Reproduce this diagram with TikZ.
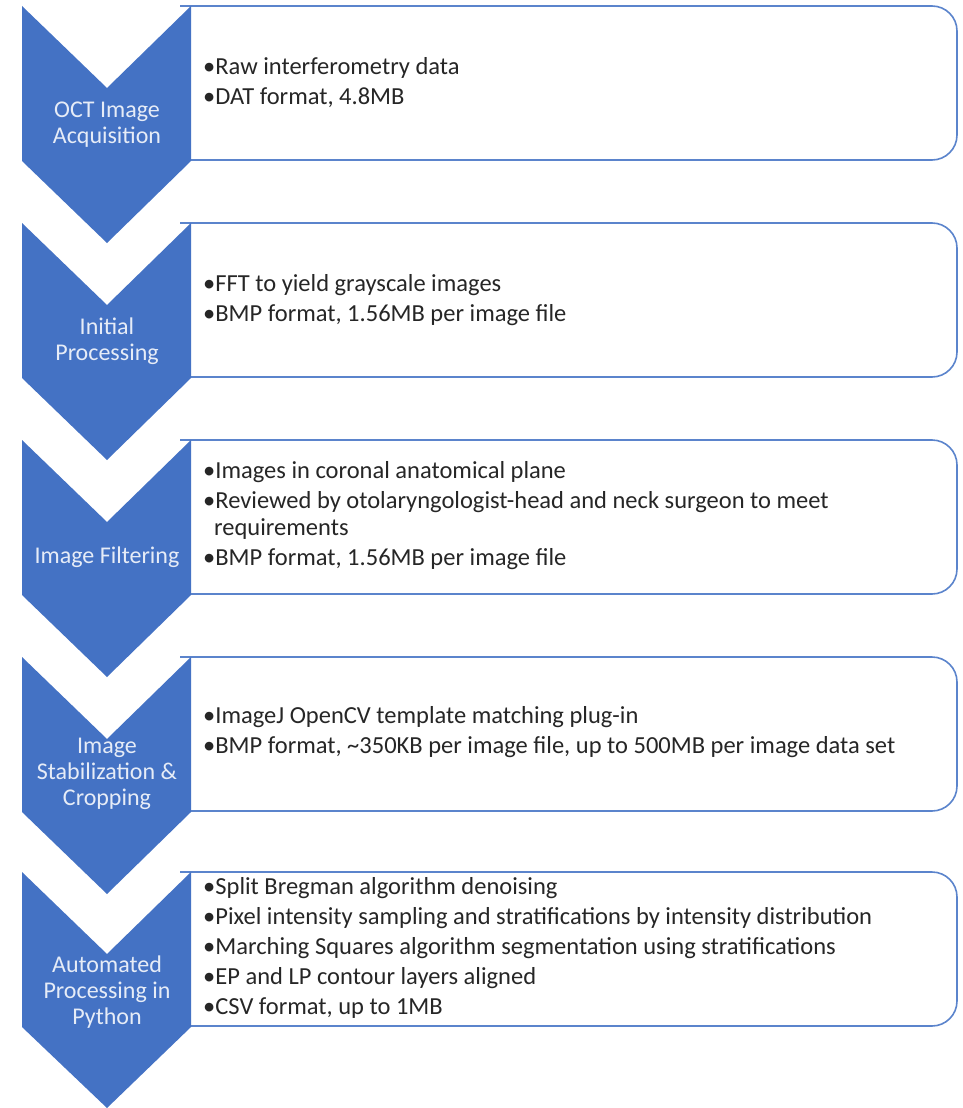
\documentclass[tikz,border=0pt]{standalone}
\usepackage{fontspec}
\setmainfont{Carlito}
\definecolor{stageblue}{HTML}{4472C4}
\definecolor{boxline}{HTML}{5B84CC}
\definecolor{bodytext}{HTML}{262626}
\definecolor{labeltext}{HTML}{E6ECF7}
\tikzset{
  chevron/.style={fill=stageblue, draw=none},
  infobox/.style={draw=boxline, line width=1.6pt, fill=white, rounded corners=25pt},
  stagelabel/.style={text=labeltext, align=center, inner sep=0pt,
    font=\fontsize{24}{26}\selectfont},
  bullets/.style={text=bodytext, align=left, anchor=west, inner sep=0pt,
    font=\fontsize{24.5}{30}\selectfont}
}
\begin{document}
\begin{tikzpicture}[x=1pt,y=-1pt]
\useasboundingbox (0,0) rectangle (963,1108);

% stage 1
\draw[infobox] (180,6) -- (957,6) -- (957,160) -- (180,160);
\fill[chevron] (22,6) -- (107,88) -- (191,6) -- (191,161) -- (107,243) -- (22,161) -- cycle;
\node[stagelabel](acq) at (107,125) {OCT Image\\Acquisition};
\node[bullets](acqtxt) at (203,83) {•Raw interferometry data\\•DAT format, 4.8MB};

% stage 2
\draw[infobox] (180,223) -- (957,223) -- (957,377) -- (180,377);
\fill[chevron] (22,223) -- (107,305) -- (191,223) -- (191,378) -- (107,460) -- (22,378) -- cycle;
\node[stagelabel](init) at (107,341) {Initial\\Processing};
\node[bullets](inittxt) at (203,300) {•FFT to yield grayscale images\\•BMP format, 1.56MB per image file};

% stage 3
\draw[infobox] (180,440) -- (957,440) -- (957,594) -- (180,594);
\fill[chevron] (22,440) -- (107,522) -- (191,440) -- (191,595) -- (107,677) -- (22,595) -- cycle;
\node[stagelabel](filt) at (107,557) {Image Filtering};
\node[bullets](filttxt) at (203,516) {•Images in coronal anatomical plane\\
  •Reviewed by otolaryngologist-head and neck surgeon to meet\\[-3pt]
  \hspace*{11pt}requirements\\
  •BMP format, 1.56MB per image file};

% stage 4
\draw[infobox] (180,657) -- (957,657) -- (957,811) -- (180,811);
\fill[chevron] (22,657) -- (107,739) -- (191,657) -- (191,812) -- (107,894) -- (22,812) -- cycle;
\node[stagelabel](stab) at (107,774) {Image\\Stabilization \&\\Cropping};
\node[bullets](stabtxt) at (203,732) {•ImageJ OpenCV template matching plug-in\\
  •BMP format, \textasciitilde350KB per image file, up to 500MB per image data set};

% stage 5
\draw[infobox] (180,872) -- (957,872) -- (957,1026) -- (180,1026);
\fill[chevron] (22,872) -- (107,954) -- (191,872) -- (191,1027) -- (107,1108) -- (22,1027) -- cycle;
\node[stagelabel](auto) at (107,992) {Automated\\Processing in\\Python};
\node[bullets](autotxt) at (203,948) {•Split Bregman algorithm denoising\\
  •Pixel intensity sampling and stratifications by intensity distribution\\
  •Marching Squares algorithm segmentation using stratifications\\
  •EP and LP contour layers aligned\\
  •CSV format, up to 1MB};

\end{tikzpicture}
\end{document}
